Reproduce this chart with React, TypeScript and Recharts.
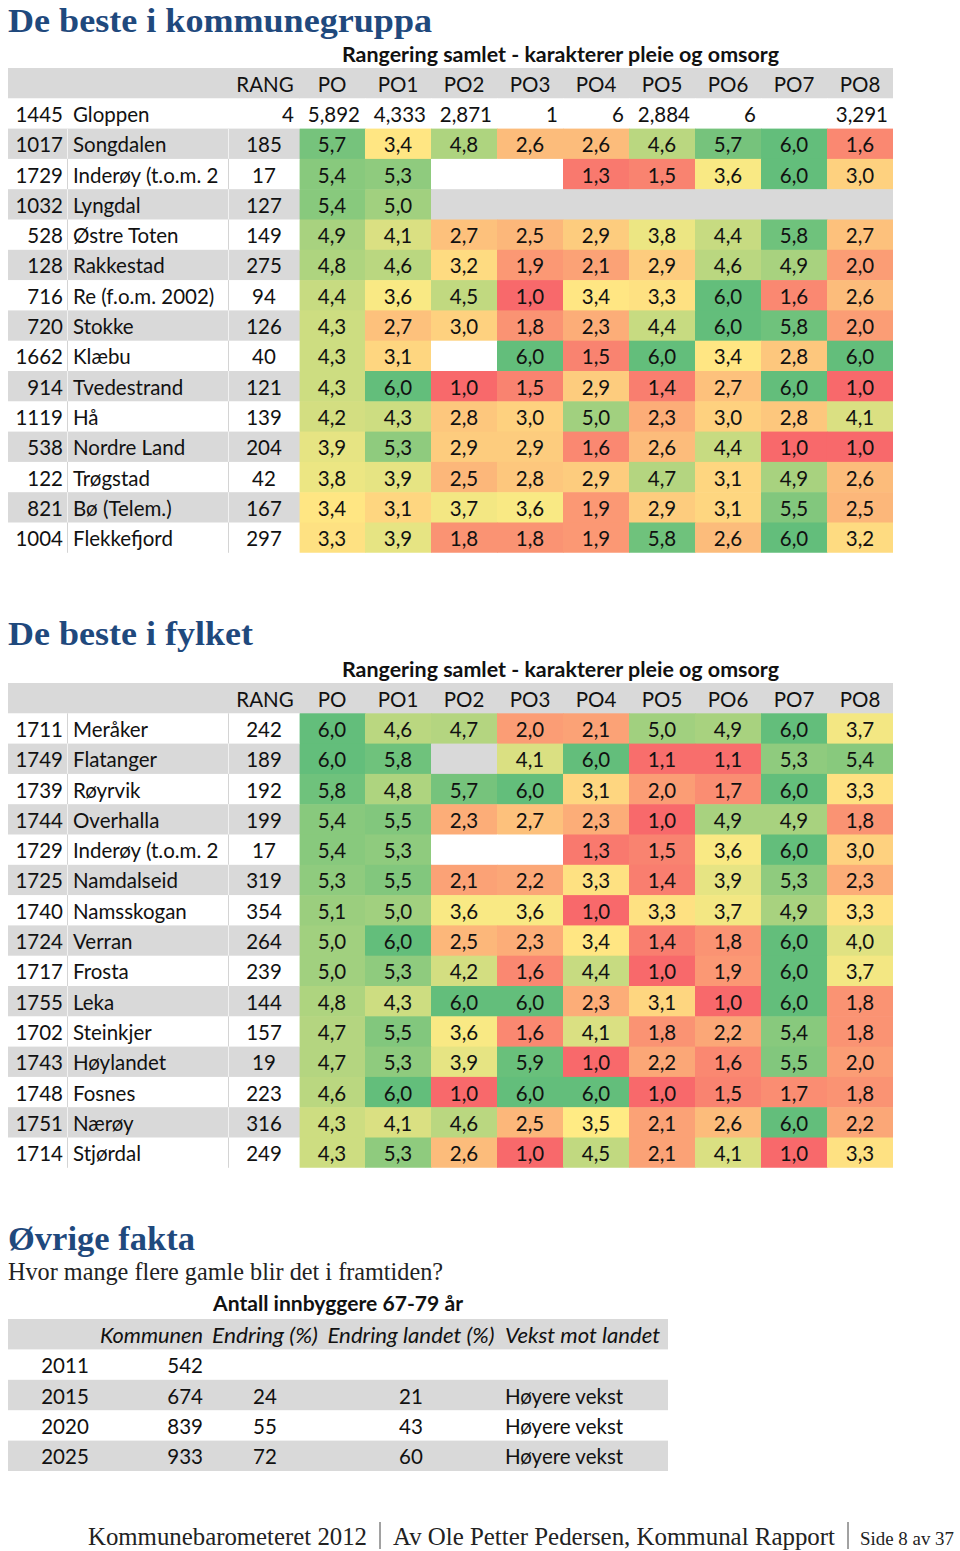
import React from 'react';
import { ScatterChart, Scatter, XAxis, YAxis } from 'recharts';

// ---------- fonts / styles ----------
const SANS = "Lato, 'Open Sans', 'Noto Sans', sans-serif";
const SERIF = "'Liberation Serif', 'DejaVu Serif', serif";
const BLUE = '#1F497D';
const GREY = '#D9D9D9';
const WHITE = '#FFFFFF';
const INK = '#111111';
const FS = 20.5;
const BASE = 8.5;

// ---------- data: score column labels ----------
const scoreColumns = ['PO', 'PO1', 'PO2', 'PO3', 'PO4', 'PO5', 'PO6', 'PO7', 'PO8'];

// ---------- data: "De beste i kommunegruppa" ----------
const groupCodes = ['1445', '1017', '1729', '1032', '528', '128', '716', '720', '1662', '914', '1119', '538', '122', '821', '1004'];
const groupNames = ['Gloppen', 'Songdalen', 'Inderøy (t.o.m. 2', 'Lyngdal', 'Østre Toten', 'Rakkestad', 'Re (f.o.m. 2002)', 'Stokke', 'Klæbu', 'Tvedestrand', 'Hå', 'Nordre Land', 'Trøgstad', 'Bø (Telem.)', 'Flekkefjord'];
const groupRang = ['4', '185', '17', '127', '149', '275', '94', '126', '40', '121', '139', '204', '42', '167', '297'];
const homeValues = ['5,892', '4,333', '2,871', '1', '6', '2,884', '6', '', '3,291'];
const groupScores: (number | null)[][] = [
  [5.7, 3.4, 4.8, 2.6, 2.6, 4.6, 5.7, 6.0, 1.6],
  [5.4, 5.3, null, null, 1.3, 1.5, 3.6, 6.0, 3.0],
  [5.4, 5.0, null, null, null, null, null, null, null],
  [4.9, 4.1, 2.7, 2.5, 2.9, 3.8, 4.4, 5.8, 2.7],
  [4.8, 4.6, 3.2, 1.9, 2.1, 2.9, 4.6, 4.9, 2.0],
  [4.4, 3.6, 4.5, 1.0, 3.4, 3.3, 6.0, 1.6, 2.6],
  [4.3, 2.7, 3.0, 1.8, 2.3, 4.4, 6.0, 5.8, 2.0],
  [4.3, 3.1, null, 6.0, 1.5, 6.0, 3.4, 2.8, 6.0],
  [4.3, 6.0, 1.0, 1.5, 2.9, 1.4, 2.7, 6.0, 1.0],
  [4.2, 4.3, 2.8, 3.0, 5.0, 2.3, 3.0, 2.8, 4.1],
  [3.9, 5.3, 2.9, 2.9, 1.6, 2.6, 4.4, 1.0, 1.0],
  [3.8, 3.9, 2.5, 2.8, 2.9, 4.7, 3.1, 4.9, 2.6],
  [3.4, 3.1, 3.7, 3.6, 1.9, 2.9, 3.1, 5.5, 2.5],
  [3.3, 3.9, 1.8, 1.8, 1.9, 5.8, 2.6, 6.0, 3.2],
];

// ---------- data: "De beste i fylket" ----------
const countyCodes = ['1711', '1749', '1739', '1744', '1729', '1725', '1740', '1724', '1717', '1755', '1702', '1743', '1748', '1751', '1714'];
const countyNames = ['Meråker', 'Flatanger', 'Røyrvik', 'Overhalla', 'Inderøy (t.o.m. 2', 'Namdalseid', 'Namsskogan', 'Verran', 'Frosta', 'Leka', 'Steinkjer', 'Høylandet', 'Fosnes', 'Nærøy', 'Stjørdal'];
const countyRang = ['242', '189', '192', '199', '17', '319', '354', '264', '239', '144', '157', '19', '223', '316', '249'];
const countyScores: (number | null)[][] = [
  [6.0, 4.6, 4.7, 2.0, 2.1, 5.0, 4.9, 6.0, 3.7],
  [6.0, 5.8, null, 4.1, 6.0, 1.1, 1.1, 5.3, 5.4],
  [5.8, 4.8, 5.7, 6.0, 3.1, 2.0, 1.7, 6.0, 3.3],
  [5.4, 5.5, 2.3, 2.7, 2.3, 1.0, 4.9, 4.9, 1.8],
  [5.4, 5.3, null, null, 1.3, 1.5, 3.6, 6.0, 3.0],
  [5.3, 5.5, 2.1, 2.2, 3.3, 1.4, 3.9, 5.3, 2.3],
  [5.1, 5.0, 3.6, 3.6, 1.0, 3.3, 3.7, 4.9, 3.3],
  [5.0, 6.0, 2.5, 2.3, 3.4, 1.4, 1.8, 6.0, 4.0],
  [5.0, 5.3, 4.2, 1.6, 4.4, 1.0, 1.9, 6.0, 3.7],
  [4.8, 4.3, 6.0, 6.0, 2.3, 3.1, 1.0, 6.0, 1.8],
  [4.7, 5.5, 3.6, 1.6, 4.1, 1.8, 2.2, 5.4, 1.8],
  [4.7, 5.3, 3.9, 5.9, 1.0, 2.2, 1.6, 5.5, 2.0],
  [4.6, 6.0, 1.0, 6.0, 6.0, 1.0, 1.5, 1.7, 1.8],
  [4.3, 4.1, 4.6, 2.5, 3.5, 2.1, 2.6, 6.0, 2.2],
  [4.3, 5.3, 2.6, 1.0, 4.5, 2.1, 4.1, 1.0, 3.3],
];

// ---------- data: "Øvrige fakta" ----------
const factHeaders = ['', 'Kommunen', 'Endring (%)', 'Endring landet (%)', 'Vekst mot landet'];
const factYears = ['2011', '2015', '2020', '2025'];
const factPopulation = [542, 674, 839, 933];
const factChange = [null, 24, 55, 72];
const factChangeNation = [null, 21, 43, 60];
const factGrowth = ['', 'Høyere vekst', 'Høyere vekst', 'Høyere vekst'];

// ---------- helpers ----------
const fmt = (v: number) => v.toFixed(1).replace('.', ',');
const range = (n: number) => Array.from({ length: n }, (_, i) => i);

const RED = [248, 105, 107];
const YEL = [255, 235, 132];
const GRN = [99, 190, 123];
const MID = 3.5;
function heat(v: number) {
  let a: number[], b: number[], t: number;
  if (v <= MID) { a = RED; b = YEL; t = (v - 1) / (MID - 1); }
  else { a = YEL; b = GRN; t = (v - MID) / (6 - MID); }
  t = Math.max(0, Math.min(1, t));
  const c = a.map((x, i) => Math.round(x + (b[i] - x) * t));
  return `rgb(${c[0]},${c[1]},${c[2]})`;
}

type TRow = { code: string; name: string; rang: string; home: boolean; scores?: (number | null)[]; texts?: string[] };

function buildRows(codes: string[], names: string[], rang: string[], scores: (number | null)[][], home: string[] | null): TRow[] {
  const rows: TRow[] = [];
  let si = 0;
  codes.forEach((code, i) => {
    if (home && i === 0) rows.push({ code, name: names[i], rang: rang[i], home: true, texts: home });
    else rows.push({ code, name: names[i], rang: rang[i], home: false, scores: scores[si++] });
  });
  return rows;
}

// ---------- layout ----------
const LEFT = 8;
const YAW = 291;
const RIGHT_M = 67;
const CW = 66;
const RH = 30.3;
const X_CODE = 63;
const X_NAME = 68;
const NAME_W = 160;
const X_SEP1 = 67.5;
const X_SEP2 = 228.5;
const X_RANG = 264;
const X_RANG_HOME = 294;

const txt = { fontFamily: SANS, fontSize: FS, fill: INK } as const;

function HeatTable({ top, rows }: { top: number; rows: TRow[] }) {
  const n = rows.length + 1;
  const height = n * RH;
  const rowBg = (r: number) => (r === 0 ? GREY : (r - 1) % 2 === 0 ? WHITE : GREY);

  const cells: any[] = [];
  scoreColumns.forEach((c, ci) => cells.push({ x: ci, y: 0, kind: 'header', text: c }));
  rows.forEach((row, ri) => {
    const r = ri + 1;
    scoreColumns.forEach((_, ci) => {
      if (row.home) cells.push({ x: ci, y: r, kind: 'home', text: row.texts![ci] });
      else {
        const v = row.scores![ci];
        cells.push({ x: ci, y: r, kind: v == null ? 'empty' : 'score', v, text: v == null ? '' : fmt(v) });
      }
    });
  });

  const renderCell = (p: any) => {
    const { cx, cy, payload: d } = p;
    const x0 = cx - CW / 2;
    const y0 = cy - RH / 2;
    const fill = d.kind === 'score' ? heat(d.v) : rowBg(d.y);
    const home = d.kind === 'home';
    return (
      <g>
        <rect x={x0} y={y0} width={CW + 0.6} height={RH + 0.6} fill={fill} />
        {d.text ? (
          <text x={home ? x0 + CW - 5 : cx} y={cy + BASE} textAnchor={home ? 'end' : 'middle'} {...txt}>
            {d.text}
          </text>
        ) : null}
      </g>
    );
  };

  const renderTick = (p: any) => {
    const r = p.payload.value as number;
    const cy = p.y as number;
    const y0 = cy - RH / 2;
    if (r === 0) {
      return (
        <g>
          <rect x={LEFT} y={y0} width={YAW + 0.6} height={RH + 0.6} fill={GREY} />
          <text x={X_RANG + 1} y={cy + BASE} textAnchor="middle" {...txt}>RANG</text>
        </g>
      );
    }
    const row = rows[r - 1];
    const bg = rowBg(r);
    const sep = bg === WHITE ? '#D4D4D4' : '#F2F2F2';
    return (
      <g>
        <rect x={LEFT} y={y0} width={YAW + 0.6} height={RH + 0.6} fill={bg} />
        {!row.home && (
          <>
            <line x1={X_SEP1} x2={X_SEP1} y1={y0} y2={y0 + RH} stroke={sep} strokeWidth={1} />
            <line x1={X_SEP2} x2={X_SEP2} y1={y0} y2={y0 + RH} stroke={sep} strokeWidth={1} />
          </>
        )}
        <text x={X_CODE} y={cy + BASE} textAnchor="end" {...txt}>{row.code}</text>
        <svg x={X_NAME} y={y0} width={NAME_W} height={RH} overflow="hidden">
          <text x={5} y={RH / 2 + BASE} textAnchor="start" {...txt}>{row.name}</text>
        </svg>
        <text x={row.home ? X_RANG_HOME : X_RANG} y={cy + BASE} textAnchor={row.home ? 'end' : 'middle'} {...txt}>
          {row.rang}
        </text>
      </g>
    );
  };

  return (
    <div style={{ position: 'absolute', left: 0, top }}>
      <ScatterChart width={960} height={height} margin={{ top: 0, right: RIGHT_M, bottom: 0, left: LEFT }}>
        <XAxis type="number" dataKey="x" domain={[-0.5, scoreColumns.length - 0.5]} allowDataOverflow hide height={0} />
        <YAxis
          type="number"
          dataKey="y"
          domain={[-0.5, n - 0.5]}
          allowDataOverflow
          reversed
          width={YAW}
          ticks={range(n)}
          interval={0}
          axisLine={false}
          tickLine={false}
          tick={renderTick}
        />
        <Scatter data={cells} shape={renderCell} isAnimationActive={false} />
      </ScatterChart>
    </div>
  );
}

// ---------- facts table ----------
const F_TOP = 1319;
const F_RH = 30.4;
const F_W = 660;
const F_COLS = [
  { pos: 57, anchor: 'middle' },
  { pos: 195, anchor: 'end' },
  { pos: 257, anchor: 'middle' },
  { pos: 403, anchor: 'middle' },
  { pos: 497, anchor: 'start' },
];
const F_HEAD_W = [0, 103, 106, 167, 155];

function FactTable() {
  const n = factYears.length + 1;
  const bands = range(n).filter((r) => r % 2 === 0).map((r) => ({ x: 0, y: r }));
  const texts: any[] = [];
  factHeaders.forEach((h, c) => { if (h) texts.push({ x: F_COLS[c].pos, y: 0, c, text: h, italic: true }); });
  factYears.forEach((yr, i) => {
    const r = i + 1;
    const vals = [yr, String(factPopulation[i]), factChange[i] == null ? '' : String(factChange[i]), factChangeNation[i] == null ? '' : String(factChangeNation[i]), factGrowth[i]];
    vals.forEach((v, c) => { if (v) texts.push({ x: F_COLS[c].pos, y: r, c, text: v, italic: false }); });
  });

  const renderBand = (p: any) => (
    <rect x={p.cx} y={p.cy - F_RH / 2} width={F_W} height={F_RH} fill={GREY} />
  );
  const renderText = (p: any) => {
    const d = p.payload;
    const extra = d.italic ? { textLength: F_HEAD_W[d.c], lengthAdjust: 'spacingAndGlyphs' } : {};
    return (
      <text x={p.cx} y={p.cy + BASE} textAnchor={F_COLS[d.c].anchor as any} fontStyle={d.italic ? 'italic' : 'normal'} {...txt} {...(extra as any)}>
        {d.text}
      </text>
    );
  };

  return (
    <div style={{ position: 'absolute', left: 0, top: F_TOP }}>
      <ScatterChart width={960} height={n * F_RH} margin={{ top: 0, right: 960 - LEFT - F_W, bottom: 0, left: LEFT }}>
        <XAxis type="number" dataKey="x" domain={[0, F_W]} allowDataOverflow hide height={0} />
        <YAxis type="number" dataKey="y" domain={[-0.5, n - 0.5]} allowDataOverflow reversed hide width={0} />
        <Scatter data={bands} shape={renderBand} isAnimationActive={false} />
        <Scatter data={texts} shape={renderText} isAnimationActive={false} />
      </ScatterChart>
    </div>
  );
}

// ---------- page ----------
const groupRows = buildRows(groupCodes, groupNames, groupRang, groupScores, homeValues);
const countyRows = buildRows(countyCodes, countyNames, countyRang, countyScores, null);

export default function App() {
  const title = { fontFamily: SERIF, fontWeight: 700, fontSize: 33, fill: BLUE } as const;
  const sub = { fontFamily: SANS, fontWeight: 700, fontSize: FS, fill: INK } as const;
  const foot = { fontFamily: SERIF, fontSize: 25, fill: '#222' } as const;
  return (
    <div style={{ position: 'absolute', left: 0, top: 0, width: 960, height: 1551, background: '#fff', overflow: 'hidden' }}>
      <svg width={960} height={1551} style={{ position: 'absolute', left: 0, top: 0 }}>
        <text x={8} y={32} textLength={424} lengthAdjust="spacingAndGlyphs" {...title}>De beste i kommunegruppa</text>
        <text x={342} y={62} textLength={437} lengthAdjust="spacingAndGlyphs" {...sub}>Rangering samlet - karakterer pleie og omsorg</text>

        <text x={8} y={645} textLength={245} lengthAdjust="spacingAndGlyphs" {...title}>De beste i fylket</text>
        <text x={342} y={677} textLength={437} lengthAdjust="spacingAndGlyphs" {...sub}>Rangering samlet - karakterer pleie og omsorg</text>

        <text x={8} y={1250} textLength={187} lengthAdjust="spacingAndGlyphs" {...title}>Øvrige fakta</text>
        <text x={8} y={1280} textLength={435} lengthAdjust="spacingAndGlyphs" fontFamily={SERIF} fontSize={25} fill="#222">Hvor mange flere gamle blir det i framtiden?</text>
        <text x={213} y={1311} textLength={250} lengthAdjust="spacingAndGlyphs" {...sub}>Antall innbyggere 67-79 år</text>

        <text x={88} y={1545} textLength={279} lengthAdjust="spacingAndGlyphs" {...foot}>Kommunebarometeret 2012</text>
        <line x1={380} x2={380} y1={1522} y2={1549} stroke="#444" strokeWidth={1} />
        <text x={393} y={1545} textLength={442} lengthAdjust="spacingAndGlyphs" {...foot}>Av Ole Petter Pedersen, Kommunal Rapport</text>
        <line x1={848} x2={848} y1={1522} y2={1549} stroke="#444" strokeWidth={1} />
        <text x={860} y={1545} textLength={94} lengthAdjust="spacingAndGlyphs" fontFamily={SERIF} fontSize={18} fill="#222">Side 8 av 37</text>
      </svg>
      <HeatTable top={68} rows={groupRows} />
      <HeatTable top={683} rows={countyRows} />
      <FactTable />
    </div>
  );
}
